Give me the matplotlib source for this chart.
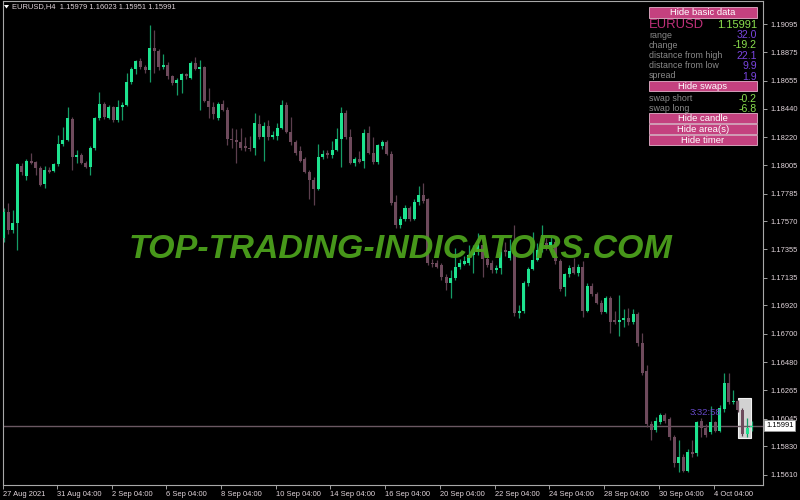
import numpy as np
import matplotlib.pyplot as plt
from matplotlib.patches import Rectangle, Polygon

plt.rcParams['font.family'] = ['Liberation Sans', 'DejaVu Sans']

# EURUSD H4 candles
opens = [
    1.1744, 1.1764, 1.1750, 1.1756, 1.1800, 1.1792, 1.1804, 1.1803, 1.1798, 1.1786,
    1.1797, 1.1796, 1.1801, 1.1817, 1.1820, 1.1836, 1.1807, 1.1808, 1.1802, 1.1799,
    1.1814, 1.1837, 1.1848, 1.1837, 1.1845, 1.1835, 1.1845, 1.1847, 1.1865, 1.1875,
    1.1881, 1.1876, 1.1874, 1.1891, 1.1889, 1.1876, 1.1878, 1.1869, 1.1864, 1.1866,
    1.1871, 1.1868, 1.1879, 1.1875, 1.1876, 1.1850, 1.1845, 1.1837, 1.1848, 1.1843,
    1.1821, 1.1820, 1.1818, 1.1815, 1.1814, 1.1814, 1.1832, 1.1822, 1.1831, 1.1822,
    1.1823, 1.1829, 1.1847, 1.1826, 1.1818, 1.1811, 1.1805, 1.1795, 1.1789, 1.1782,
    1.1807, 1.1810, 1.1808, 1.1812, 1.1821, 1.1841, 1.1822, 1.1802, 1.1805, 1.1804,
    1.1825, 1.1810, 1.1803, 1.1815, 1.1818, 1.1809, 1.1772, 1.1754, 1.1759, 1.1767,
    1.1759, 1.1772, 1.1777, 1.1774, 1.1725, 1.1725, 1.1723, 1.1714, 1.1709, 1.1713,
    1.1722, 1.1724, 1.1725, 1.1731, 1.1733, 1.1739, 1.1728, 1.1725, 1.1719, 1.1721,
    1.1735, 1.1729, 1.1734, 1.1686, 1.1688, 1.1709, 1.1720, 1.1727, 1.1735, 1.1740,
    1.1737, 1.1741, 1.1726, 1.1706, 1.1716, 1.1722, 1.1717, 1.1722, 1.1688, 1.1707,
    1.1701, 1.1694, 1.1687, 1.1698, 1.1681, 1.1679, 1.1681, 1.1682, 1.1679, 1.1685,
    1.1663, 1.1641, 1.1600, 1.1596, 1.1602, 1.1607, 1.1604, 1.1590, 1.1570, 1.1575,
    1.1564, 1.1579, 1.1578, 1.1603, 1.1597, 1.1594, 1.1602, 1.1595, 1.1612, 1.1632,
    1.1617, 1.1618, 1.1611, 1.1593, 1.15979]
highs = [
    1.1767, 1.1771, 1.1766, 1.1802, 1.1802, 1.1805, 1.1810, 1.1804, 1.1800, 1.1800,
    1.1799, 1.1802, 1.1824, 1.1830, 1.1845, 1.1838, 1.1812, 1.1810, 1.1804, 1.1815,
    1.1838, 1.1857, 1.1849, 1.1847, 1.1846, 1.1851, 1.1849, 1.1872, 1.1876, 1.1882,
    1.1883, 1.1878, 1.1909, 1.1905, 1.1890, 1.1886, 1.1880, 1.1870, 1.1868, 1.1872,
    1.1872, 1.1881, 1.1884, 1.1882, 1.1877, 1.1860, 1.1849, 1.1849, 1.1851, 1.1845,
    1.1829, 1.1828, 1.1829, 1.1822, 1.1823, 1.1841, 1.1839, 1.1834, 1.1835, 1.1827,
    1.1833, 1.1851, 1.1849, 1.1838, 1.1820, 1.1815, 1.1807, 1.1797, 1.1791, 1.1817,
    1.1812, 1.1812, 1.1819, 1.1829, 1.1845, 1.1843, 1.1828, 1.1807, 1.1811, 1.1828,
    1.1831, 1.1822, 1.1817, 1.1820, 1.1820, 1.1811, 1.1777, 1.1761, 1.1770, 1.1769,
    1.1774, 1.1784, 1.1787, 1.1775, 1.1728, 1.1727, 1.1725, 1.1716, 1.1719, 1.1736,
    1.1728, 1.1730, 1.1739, 1.1739, 1.1748, 1.1740, 1.1731, 1.1727, 1.1723, 1.1736,
    1.1741, 1.1743, 1.1754, 1.1692, 1.1711, 1.1722, 1.1749, 1.1740, 1.1754, 1.1744,
    1.1746, 1.1743, 1.1728, 1.1717, 1.1723, 1.1729, 1.1724, 1.1726, 1.1709, 1.1709,
    1.1702, 1.1696, 1.1699, 1.1699, 1.1688, 1.1700, 1.1689, 1.1690, 1.1689, 1.1687,
    1.1671, 1.1646, 1.1603, 1.1606, 1.1609, 1.1609, 1.1606, 1.1592, 1.1588, 1.1577,
    1.1581, 1.1588, 1.1603, 1.1605, 1.1600, 1.1614, 1.1603, 1.1615, 1.1640, 1.1640,
    1.1627, 1.1619, 1.1613, 1.1605, 1.16023]
lows = [
    1.1741, 1.1747, 1.1748, 1.1735, 1.1793, 1.1789, 1.1801, 1.1793, 1.1784, 1.1783,
    1.1794, 1.1795, 1.1800, 1.1815, 1.1819, 1.1797, 1.1802, 1.1801, 1.1798, 1.1793,
    1.1812, 1.1835, 1.1836, 1.1836, 1.1834, 1.1834, 1.1835, 1.1846, 1.1863, 1.1871,
    1.1875, 1.1872, 1.1865, 1.1872, 1.1874, 1.1875, 1.1867, 1.1862, 1.1855, 1.1856,
    1.1867, 1.1867, 1.1874, 1.1843, 1.1849, 1.1837, 1.1836, 1.1835, 1.1842, 1.1816,
    1.1814, 1.1802, 1.1812, 1.1811, 1.1811, 1.1808, 1.1821, 1.1804, 1.1820, 1.1821,
    1.1820, 1.1828, 1.1825, 1.1816, 1.1808, 1.1803, 1.1794, 1.1774, 1.1770, 1.1781,
    1.1805, 1.1806, 1.1806, 1.1811, 1.1799, 1.1821, 1.1801, 1.1800, 1.1802, 1.1798,
    1.1809, 1.1801, 1.1801, 1.1813, 1.1808, 1.1770, 1.1752, 1.1752, 1.1757, 1.1757,
    1.1758, 1.1770, 1.1771, 1.1723, 1.1722, 1.1721, 1.1712, 1.1704, 1.1698, 1.1712,
    1.1720, 1.1723, 1.1723, 1.1717, 1.1731, 1.1714, 1.1722, 1.1717, 1.1717, 1.1716,
    1.1730, 1.1727, 1.1684, 1.1682, 1.1686, 1.1707, 1.1719, 1.1726, 1.1733, 1.1735,
    1.1733, 1.1724, 1.1703, 1.1699, 1.1714, 1.1716, 1.1715, 1.1683, 1.1687, 1.1699,
    1.1693, 1.1685, 1.1686, 1.1671, 1.1678, 1.1668, 1.1675, 1.1677, 1.1678, 1.1661,
    1.1638, 1.1598, 1.1588, 1.1594, 1.1600, 1.1601, 1.1588, 1.1567, 1.1563, 1.1563,
    1.1563, 1.1575, 1.1576, 1.1590, 1.1590, 1.1593, 1.1594, 1.1594, 1.1610, 1.1616,
    1.1616, 1.1610, 1.1591, 1.1590, 1.15951]
closes = [
    1.1764, 1.1750, 1.1756, 1.1801, 1.1795, 1.1804, 1.1802, 1.1798, 1.1785, 1.1797,
    1.1795, 1.1801, 1.1817, 1.1820, 1.1837, 1.1807, 1.1808, 1.1802, 1.1799, 1.1814,
    1.1837, 1.1848, 1.1838, 1.1845, 1.1835, 1.1845, 1.1847, 1.1865, 1.1875, 1.1881,
    1.1876, 1.1874, 1.1891, 1.1889, 1.1876, 1.1878, 1.1869, 1.1864, 1.1866, 1.1871,
    1.1869, 1.1879, 1.1875, 1.1876, 1.1850, 1.1845, 1.1840, 1.1848, 1.1843, 1.1821,
    1.1820, 1.1818, 1.1814, 1.1814, 1.1813, 1.1833, 1.1822, 1.1831, 1.1822, 1.1824,
    1.1829, 1.1847, 1.1826, 1.1818, 1.1810, 1.1804, 1.1795, 1.1789, 1.1782, 1.1807,
    1.1809, 1.1808, 1.1812, 1.1821, 1.1841, 1.1822, 1.1802, 1.1805, 1.1803, 1.1825,
    1.1810, 1.1803, 1.1816, 1.1818, 1.1809, 1.1771, 1.1754, 1.1759, 1.1767, 1.1759,
    1.1772, 1.1777, 1.1773, 1.1725, 1.1724, 1.1722, 1.1714, 1.1709, 1.1713, 1.1722,
    1.1725, 1.1726, 1.1731, 1.1733, 1.1739, 1.1728, 1.1723, 1.1719, 1.1721, 1.1733,
    1.1733, 1.1734, 1.1686, 1.1688, 1.1709, 1.1720, 1.1727, 1.1735, 1.1740, 1.1737,
    1.1741, 1.1726, 1.1705, 1.1716, 1.1721, 1.1717, 1.1722, 1.1688, 1.1707, 1.1701,
    1.1694, 1.1687, 1.1698, 1.1679, 1.1679, 1.1681, 1.1682, 1.1679, 1.1685, 1.1663,
    1.1640, 1.1600, 1.1596, 1.1603, 1.1607, 1.1603, 1.1590, 1.1570, 1.1575, 1.1564,
    1.1579, 1.1577, 1.1602, 1.1597, 1.1592, 1.1602, 1.1595, 1.1613, 1.1632, 1.1617,
    1.1618, 1.1611, 1.1593, 1.1597, 1.15991]

date_labels = ['27 Aug 2021', '31 Aug 04:00', '2 Sep 04:00', '6 Sep 04:00', '8 Sep 04:00',
               '10 Sep 04:00', '14 Sep 04:00', '16 Sep 04:00', '20 Sep 04:00', '22 Sep 04:00',
               '24 Sep 04:00', '28 Sep 04:00', '30 Sep 04:00', '4 Oct 04:00']
date_bars = [0, 12, 24, 36, 48, 60, 72, 84, 96, 108, 120, 132, 144, 156]
price_ticks = [1.19095, 1.18875, 1.18655, 1.18440, 1.18220, 1.18005, 1.17785, 1.17570,
               1.17355, 1.17135, 1.16920, 1.16700, 1.16480, 1.16265, 1.16045, 1.15830, 1.15610]

last_price = 1.15991
timer = '3:32:58'
info_labels = ['range', 'change', 'distance from high', 'distance from low', 'spread']
info_values = ['32.0', '-19.2', '22.1', '9.9', '1.9']
swap_labels = ['swap short', 'swap long']
swap_values = ['-0.2', '-6.8']

bull, bear = '#1de38f', '#6e4a5c'
purple, lime = '#7a45e0', '#8be04e'
txt_col = '#e2d6dc'

fig = plt.figure(figsize=(8, 5), dpi=100, facecolor='black')
ax = fig.add_axes([3 / 800, 15 / 500, 760 / 800, 484 / 500], facecolor='black')

o, h, l, c = map(np.array, (opens, highs, lows, closes))
x = np.arange(len(o))
up = c >= o

ax.vlines(x[up], l[up], h[up], color='#159c66', lw=0.9, zorder=2)
ax.vlines(x[~up], l[~up], h[~up], color='#5c3f4e', lw=0.9, zorder=2)
body = np.maximum(np.abs(c - o), 0.00007)
ax.bar(x, body, bottom=np.minimum(o, c), width=0.66,
       color=np.where(up, bull, bear), lw=0, zorder=3)

# box around the current candle area and last price line
ax.add_patch(Rectangle((161.1, 1.15895), 2.8, 0.0031, fc='#d2d2d2', ec='#f2f2f2',
                       lw=0.8, zorder=1))
ax.axhline(last_price, color='#6b5862', lw=1, zorder=1.5)
ax.text(150.4, 1.16089, timer, color='#6648c8', fontsize=6.8, va='center', zorder=4)

ax.set_xlim(-0.15, 166.5)
ax.set_ylim(1.15532, 1.19273)

ax.yaxis.tick_right()
ax.set_yticks(price_ticks)
ax.set_yticklabels([f'{v:.5f}' for v in price_ticks])
ax.set_xticks([max(b - 0.35, -0.1) for b in date_bars])
ax.set_xticklabels(date_labels, ha='left')
ax.tick_params(axis='both', colors='#a0a0a0', labelcolor=txt_col, labelsize=5.4,
               length=3, width=0.7)
ax.tick_params(axis='x', pad=1.5)
ax.tick_params(axis='y', pad=2)
for s in ax.spines.values():
    s.set_color('#a8a8a8')
    s.set_linewidth(0.8)

ax.annotate(f'{last_price:.5f}', xy=(1, last_price), xycoords=('axes fraction', 'data'),
            xytext=(2.2, 0), textcoords='offset points', ha='left', va='center',
            fontsize=5.4, color='black',
            bbox=dict(boxstyle='square,pad=0.25', fc='white', ec='#999999', lw=0.6))

# watermark
fig.text(401 / 800, 1 - 249 / 500, 'TOP-TRADING-INDICATORS.COM', color='#4ca01c',
         fontsize=24.5, fontweight='bold', style='italic', ha='center', va='center',
         alpha=0.95, zorder=6)

# chart title
fig.patches.append(Polygon([(4 / 800, 1 - 5 / 500), (9 / 800, 1 - 5 / 500),
                            (6.5 / 800, 1 - 8.5 / 500)], closed=True, fc='white',
                           ec='none', transform=fig.transFigure, zorder=5))
fig.text(12 / 800, 1 - 7 / 500, 'EURUSD,H4  1.15979 1.16023 1.15951 1.15991',
         color=txt_col, fontsize=5.4, va='center', zorder=5)


def fy(py):
    return 1 - py / 500


def button(label, top, bottom):
    fig.patches.append(Rectangle((649 / 800, fy(bottom)), 108 / 800, (bottom - top) / 500,
                                 transform=fig.transFigure, fc='#c4417f', ec='#e6b3cc',
                                 lw=0.6, zorder=6))
    fig.text(703 / 800, fy((top + bottom) / 2), label, color='white', fontsize=6.8,
             ha='center', va='center', zorder=7)


button('Hide basic data', 7, 18)
fig.text(649 / 800, fy(25), 'EURUSD', color='#c0307a', fontsize=9.4, va='center', zorder=5)
fig.text(757 / 800, fy(25), f'{last_price:.5f}', color=lime, fontsize=8, ha='right',
         va='center', zorder=5)
for i, (lab, val) in enumerate(zip(info_labels, info_values)):
    yy = [35, 45, 55.5, 65.5, 76][i]
    fig.text(649 / 800, fy(yy), lab, color='#8a8a8a', fontsize=6.4, va='center', zorder=5)
    fig.text(757 / 800, fy(yy + 0.5), val, color=lime if val.startswith('-') else purple,
             fontsize=7.6, ha='right', va='center', zorder=5)
button('Hide swaps', 81.5, 91)
for lab, val, yy in zip(swap_labels, swap_values, [98.5, 108.5]):
    fig.text(649 / 800, fy(yy), lab, color='#8a8a8a', fontsize=6.4, va='center', zorder=5)
    fig.text(757 / 800, fy(yy + 0.5), val, color=lime, fontsize=7.6, ha='right',
             va='center', zorder=5)
button('Hide candle', 113.5, 123)
button('Hide area(s)', 124.5, 134)
button('Hide timer', 135.5, 145.5)

fig.savefig('out.png', dpi=100, facecolor='black')
